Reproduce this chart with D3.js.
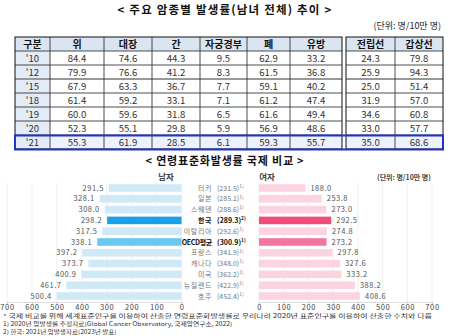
<!DOCTYPE html>
<html><head><meta charset="utf-8">
<script src="https://cdn.jsdelivr.net/npm/d3@7"></script>
<style>
body{margin:0;background:#fff}
svg{display:block} text{font-family:"Noto Sans CJK KR","Noto Sans",sans-serif}
</style>
</head><body>
<svg id="c" width="450" height="336"></svg>
<script>
// ---------- table data ----------
const years = ["'10","'12","'15","'18","'19","'20","'21"];
const cancerTypes = ["위","대장","간","자궁경부","폐","유방","전립선","갑상선"];
const stomach    = [84.4,79.9,67.9,61.4,60.0,52.3,55.3];
const colorectal = [74.6,76.6,63.3,59.2,59.6,55.1,61.9];
const liver      = [44.3,41.2,36.7,33.1,31.8,29.8,28.5];
const cervix     = [9.5,8.3,7.7,7.1,6.5,5.9,6.1];
const lung       = [62.9,61.5,59.1,61.2,61.6,56.9,59.3];
const breast     = [33.2,36.8,40.2,47.4,49.4,48.6,55.7];
const prostate   = [24.3,25.9,25.0,31.9,34.6,33.0,35.0];
const thyroid    = [79.8,94.3,51.4,57.0,60.8,57.7,68.6];

// ---------- chart data ----------
const countries   = ["터키","일본","스웨덴","한국","이탈리아","OECD평균","프랑스","캐나다","미국","뉴질랜드","호주"];
const totalRates  = ["231.5","285.1","288.6","289.3","292.6","300.9","341.9","348.0","362.2","422.9","452.4"];
const noteMarks   = ["1)","1)","1)","2)","1)","1)","1)","1)","1)","1)","1)"];
const maleRates   = [291.5,328.1,308.0,298.2,317.5,338.1,397.2,373.7,400.9,461.7,500.4];
const femaleRates = [188.0,253.8,273.0,292.5,274.8,273.2,297.8,327.6,333.2,388.2,408.6];
const axisTicks   = [0,100,200,300,400,500,600,700];
const notes = [
  "* 국제 비교를 위해 세계표준인구를 이용하여 산출한 연령표준화발생률로 우리나라 2020년 표준인구를 이용하여 산출한 수치와 다름",
  "1) 2020년 암발생률 추정자료(Global Cancer Observatory, 국제암연구소, 2022)",
  "2) 한국: 2021년 암발생자료(2023년 발표)"
];

const svg = d3.select("#c");
const fmt = d3.format(".1f");

// ---------- titles ----------
svg.append("text").attr("x",225).attr("y",14).attr("text-anchor","middle")
  .attr("font-size",11.5).attr("font-weight","bold").attr("letter-spacing",1.2).attr("fill","#111")
  .text("< 주요 암종별 발생률(남녀 전체) 추이 >");
svg.append("text").attr("x",441).attr("y",29).attr("text-anchor","end")
  .attr("font-size",9).attr("fill","#222").text("(단위: 명/10만 명)");

// ---------- table ----------
const colValues = [stomach,colorectal,liver,cervix,lung,breast,prostate,thyroid];
const leftEdges = [15,50,104,152,200,247,290,342];
const rightEdges = [346,395,443];
const cols = [{x0:15,x1:50,label:"구분",vals:null}];
for (let i=0;i<6;i++) cols.push({x0:leftEdges[i+1],x1:leftEdges[i+2],label:cancerTypes[i],vals:colValues[i]});
for (let i=0;i<2;i++) cols.push({x0:rightEdges[i],x1:rightEdges[i+1],label:cancerTypes[6+i],vals:colValues[6+i]});

const rowY = d3.scaleBand().domain(["head",...years]).range([37,149]);
const tbl = svg.append("g");
["head",...years].forEach((r,ri)=>{
  cols.forEach((c,ci)=>{
    let fill = "#fff";
    if (r==="head") fill = "#dbe5f1";
    else if (ci===0) fill = "#e3ebf6";
    if (r==="'21") fill = ci===0 ? "#e3ebf6" : "#edf2fa";
    tbl.append("rect").attr("x",c.x0).attr("y",rowY(r)).attr("width",c.x1-c.x0).attr("height",rowY.bandwidth()).attr("fill",fill);
    const txt = r==="head" ? c.label : (ci===0 ? r : fmt(c.vals[ri-1]));
    tbl.append("text").attr("x",(c.x0+c.x1)/2).attr("y",rowY(r)+rowY.bandwidth()/2+3.6)
      .attr("text-anchor","middle").attr("font-size",r==="head"?10:9.6)
      .attr("font-weight",r==="head"?"bold":"normal").attr("fill",r==="head"?"#111":"#333").text(txt);
  });
});
const blocks = [[15,342],[346,443]];
blocks.forEach(([a,b])=>{
  ["head",...years].forEach((r,ri)=>{
    if (ri===0) return;
    const gray = r==="'15";
    tbl.append("line").attr("x1",a).attr("x2",b).attr("y1",rowY(r)).attr("y2",rowY(r))
      .attr("stroke",gray?"#999":"#222").attr("stroke-width",gray?1.8:0.8);
  });
  tbl.append("rect").attr("x",a).attr("y",37).attr("width",b-a).attr("height",112)
    .attr("fill","none").attr("stroke","#111").attr("stroke-width",1);
});
cols.forEach((c,ci)=>{
  if (ci===0 || c.x0===346) return;
  tbl.append("line").attr("x1",c.x0).attr("x2",c.x0).attr("y1",37).attr("y2",149).attr("stroke","#222").attr("stroke-width",0.8);
});
tbl.append("rect").attr("x",15).attr("y",rowY("'21")+0.5).attr("width",428).attr("height",rowY.bandwidth())
  .attr("fill","none").attr("stroke","#2233cc").attr("stroke-width",2);

// ---------- butterfly chart ----------
svg.append("text").attr("x",225).attr("y",165).attr("text-anchor","middle")
  .attr("font-size",11).attr("font-weight","bold").attr("letter-spacing",0.8).attr("fill","#111")
  .text("< 연령표준화발생률 국제 비교 >");
svg.append("text").attr("x",166).attr("y",180).attr("text-anchor","middle")
  .attr("font-size",8.5).attr("font-weight","bold").attr("fill","#444").text("남자");
svg.append("text").attr("x",267).attr("y",180).attr("text-anchor","middle")
  .attr("font-size",8.5).attr("font-weight","bold").attr("fill","#444").text("여자");
svg.append("text").attr("x",404).attr("y",180).attr("text-anchor","middle")
  .attr("font-size",7).attr("font-weight","bold").attr("fill","#444").text("(단위: 명/10만 명)");

const xm = d3.scaleLinear().domain([0,700]).range([181.5,7]);
const xf = d3.scaleLinear().domain([0,700]).range([259,432]);
const y = d3.scaleBand().domain(countries).range([182.6,301.4]).paddingInner(0.3).paddingOuter(0.15);
const gridTop = 183, axisY = 302;

const g = svg.append("g");
axisTicks.forEach(t=>{
  g.append("line").attr("x1",xm(t)).attr("x2",xm(t)).attr("y1",gridTop).attr("y2",axisY).attr("stroke","#ececec").attr("stroke-width",0.8);
  g.append("line").attr("x1",xf(t)).attr("x2",xf(t)).attr("y1",gridTop).attr("y2",axisY).attr("stroke","#ececec").attr("stroke-width",0.8);
});

const maleColor = (c)=> c==="한국" ? "#1aa0e6" : c==="OECD평균" ? "#69c8f1" : "#cfe9f6";
const femaleColor = (c)=> c==="한국" ? "#ef4c7c" : c==="OECD평균" ? "#f2759d" : "#fcd4e1";

g.selectAll(".mb").data(countries).join("rect")
  .attr("x",(d,i)=>xm(maleRates[i])).attr("y",d=>y(d))
  .attr("width",(d,i)=>xm(0)-xm(maleRates[i])).attr("height",y.bandwidth()).attr("fill",d=>maleColor(d));
g.selectAll(".fb").data(countries).join("rect")
  .attr("x",xf(0)).attr("y",d=>y(d))
  .attr("width",(d,i)=>xf(femaleRates[i])-xf(0)).attr("height",y.bandwidth()).attr("fill",d=>femaleColor(d));

g.selectAll(".ml").data(countries).join("text")
  .attr("x",(d,i)=>xm(maleRates[i])-5).attr("y",d=>y(d)+y.bandwidth()/2+2.6)
  .attr("text-anchor","end").attr("font-size",7.5).attr("fill","#555").attr("letter-spacing",0.5)
  .text((d,i)=>fmt(maleRates[i]));
g.selectAll(".fl").data(countries).join("text")
  .attr("x",(d,i)=>xf(femaleRates[i])+5).attr("y",d=>y(d)+y.bandwidth()/2+2.6)
  .attr("text-anchor","start").attr("font-size",7.5).attr("fill","#555").attr("letter-spacing",0.5)
  .text((d,i)=>fmt(femaleRates[i]));

countries.forEach((c,i)=>{
  const bold = c==="한국"||c==="OECD평균";
  const cy = y(c)+y.bandwidth()/2+2.5;
  g.append("text").attr("x",212).attr("y",cy).attr("text-anchor","end")
    .attr("font-size",7).attr("font-weight",bold?"bold":"normal").attr("fill",bold?"#111":"#777")
    .attr("letter-spacing",c==="OECD평균"?-0.3:0.6).text(c);
  const t = g.append("text").attr("x",217).attr("y",cy)
    .attr("font-size",7).attr("font-weight",bold?"bold":"normal").attr("fill",bold?"#111":"#777");
  t.append("tspan").text("("+totalRates[i]+")");
  t.append("tspan").attr("font-size",4.8).attr("dy",-2.8).text(noteMarks[i]);
});

const axL = d3.axisBottom(xm).tickValues(axisTicks).tickSize(2).tickPadding(0.5);
const axR = d3.axisBottom(xf).tickValues(axisTicks).tickSize(2).tickPadding(0.5);
[axL,axR].forEach(ax=>{
  const a = svg.append("g").attr("transform",`translate(0,${axisY})`).call(ax);
  a.select(".domain").attr("stroke","#ddd");
  a.selectAll(".tick line").attr("stroke","#ccc");
  a.selectAll(".tick text").attr("font-size",7.5).attr("fill","#444").attr("letter-spacing",0.6)
    .attr("font-family","'Noto Sans CJK KR',sans-serif");
});

// footnotes: small font, stretched horizontally to the reference widths
const noteWidths = [429, 230, 114];
notes.forEach((n,i)=>{
  const grp = svg.append("g");
  const t = grp.append("text").attr("x",0).attr("y",0).attr("font-size",5.5)
    .attr("fill","#333").text(n);
  const w = t.node().getComputedTextLength();
  grp.attr("transform",`translate(3,${318.4+i*8}) scale(${noteWidths[i]/w},1)`);
});
</script>
</body></html>
